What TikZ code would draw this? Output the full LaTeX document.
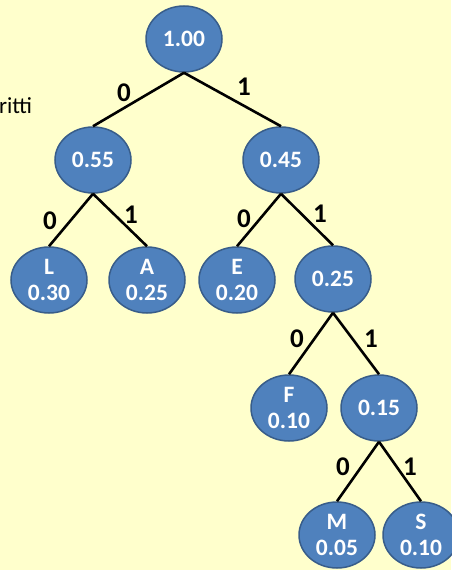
\documentclass[tikz,border=0pt]{standalone}
\usepackage{fontspec}
\usetikzlibrary{shapes.geometric}
\setmainfont{Carlito}
\definecolor{bg}{HTML}{FFFFCC}
\definecolor{nfill}{HTML}{4F81BD}
\definecolor{nline}{HTML}{385D8A}
\begin{document}
\begin{tikzpicture}[x=1pt,y=-1pt,
  hnode/.style={ellipse,draw=nline,line width=1.5pt,fill=nfill,minimum width=76pt,minimum height=66pt,inner sep=0pt,text=white,font=\fontsize{23.5}{26}\selectfont\bfseries,align=center},
  edge/.style={line width=2.6pt,black},
  blab/.style={font=\fontsize{27}{28}\selectfont\bfseries,inner sep=0pt}]
\useasboundingbox[fill=bg] (0,0) rectangle (451,570);
\node[anchor=base west,font=\fontsize{23}{24}\selectfont,inner sep=0pt] (txt) at (-1,113) {ritti};
\node[hnode] (r) at (184,39) {1.00};
\node[hnode] (a) at (93,160) {0.55};
\node[hnode] (b) at (281,160) {0.45};
\node[hnode] (L) at (49,280) {L\\0.30};
\node[hnode] (A) at (147,280) {A\\0.25};
\node[hnode] (E) at (237,280) {E\\0.20};
\node[hnode] (c) at (333,279) {0.25};
\node[hnode] (F) at (289,408) {F\\0.10};
\node[hnode] (d) at (379,408) {0.15};
\node[hnode] (M) at (337,535) {M\\0.05};
\node[hnode] (S) at (421,535) {S\\0.10};
\draw[edge] (r.south) -- (a.north);
\draw[edge] (r.south) -- (b.north);
\draw[edge] (a.south) -- (L.north);
\draw[edge] (a.south) -- (A.north);
\draw[edge] (b.south) -- (E.north);
\draw[edge] (b.south) -- (c.north);
\draw[edge] (c.south) -- (F.north);
\draw[edge] (c.south) -- (d.north);
\draw[edge] (d.south) -- (M.north);
\draw[edge] (d.south) -- (S.north);
\node[blab] (l1) at (124,93) {0};
\node[blab] (l2) at (244,87) {1};
\node[blab] (l3) at (50,221) {0};
\node[blab] (l4) at (131,215) {1};
\node[blab] (l5) at (244,219) {0};
\node[blab] (l6) at (320,214) {1};
\node[blab] (l7) at (297,339) {0};
\node[blab] (l8) at (371,339) {1};
\node[blab] (l9) at (343,467) {0};
\node[blab] (l10) at (410,467) {1};
\end{tikzpicture}
\end{document}
